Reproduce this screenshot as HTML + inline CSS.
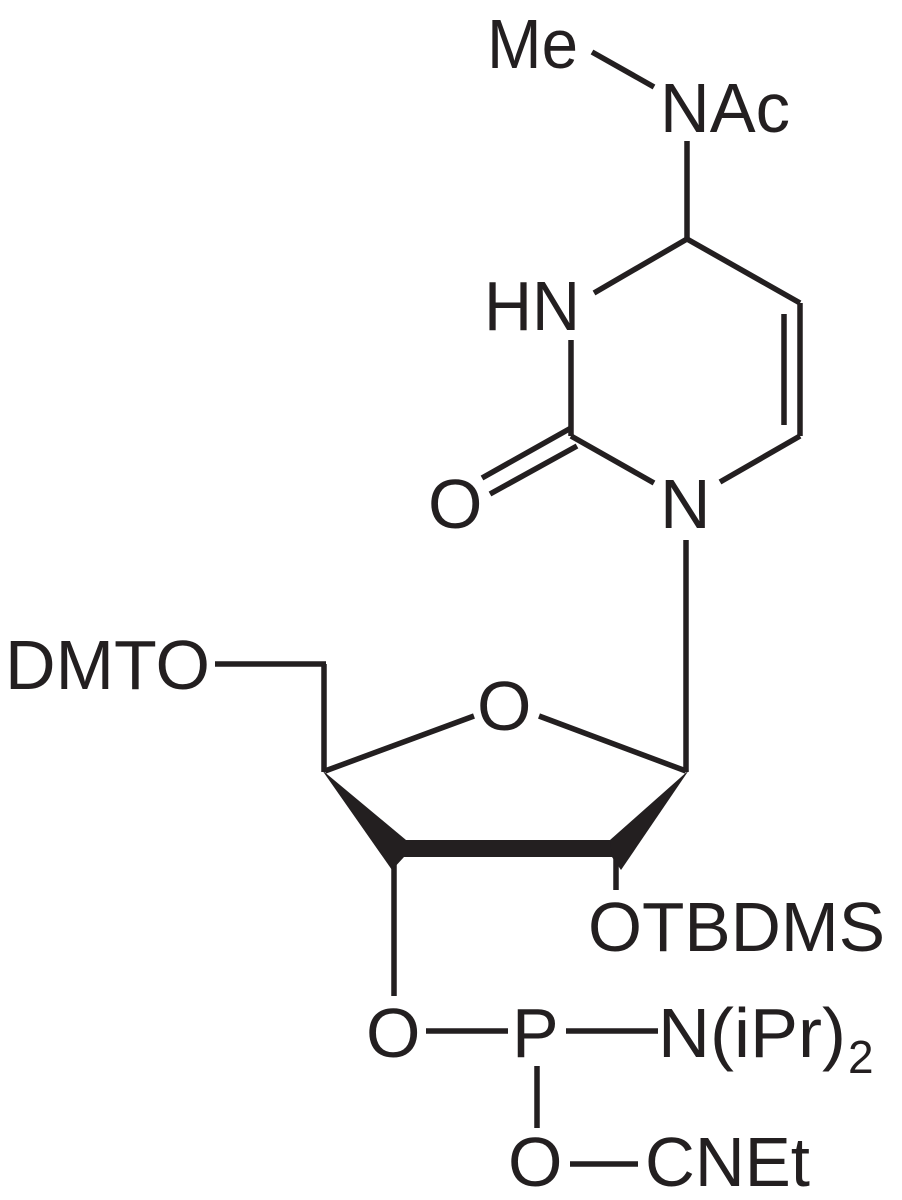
<!DOCTYPE html>
<html><head><style>
html,body{margin:0;padding:0;background:#fff;}
svg{display:block;}
text{font-family:"Liberation Sans",sans-serif;font-size:70px;fill:#231f20;}
</style></head><body>
<svg width="902" height="1200" viewBox="0 0 902 1200" xmlns="http://www.w3.org/2000/svg">
<g stroke="#231f20" stroke-width="5.5" fill="none" stroke-linecap="butt">
<line x1="592" y1="52" x2="654" y2="87"/>
<line x1="687" y1="141" x2="687" y2="239"/>
<line x1="687" y1="239" x2="594" y2="293"/>
<line x1="687" y1="239" x2="800" y2="303"/>
<line x1="800" y1="303" x2="800" y2="436"/>
<line x1="784" y1="314" x2="784" y2="425"/>
<line x1="800" y1="436" x2="720" y2="482"/>
<line x1="571" y1="340" x2="571" y2="436"/>
<line x1="571" y1="436" x2="654" y2="483"/>
<line x1="571" y1="428" x2="482" y2="478"/>
<line x1="577" y1="446" x2="490" y2="494"/>
<line x1="686" y1="540" x2="686" y2="772"/>
<line x1="324" y1="664" x2="324" y2="772"/>
<line x1="215" y1="664" x2="326" y2="664"/>
<line x1="325" y1="771" x2="474" y2="716"/>
<line x1="539" y1="716" x2="686" y2="771"/>
<line x1="394" y1="856" x2="394" y2="996"/>
<line x1="616" y1="856" x2="616" y2="890"/>
<line x1="426" y1="1031" x2="508" y2="1031"/>
<line x1="566" y1="1031" x2="658" y2="1031"/>
<line x1="537" y1="1066" x2="537" y2="1128"/>
<line x1="570" y1="1164" x2="638" y2="1164"/>
</g>
<g fill="#231f20">
<polygon points="322,770 406,840 404,857 392,870"/>
<polygon points="398,840 617,840 617,857 398,857"/>
<polygon points="689,770 610,840 612,857 621,870"/>
</g>
<text x="487" y="68" textLength="91" lengthAdjust="spacingAndGlyphs">Me</text>
<text x="660" y="132" textLength="130" lengthAdjust="spacingAndGlyphs">NAc</text>
<text x="484" y="330" textLength="96" lengthAdjust="spacingAndGlyphs">HN</text>
<text x="428" y="528">O</text>
<text x="660" y="528">N</text>
<text x="5" y="689" textLength="205" lengthAdjust="spacingAndGlyphs">DMTO</text>
<text x="477" y="730">O</text>
<text x="588" y="951" textLength="297" lengthAdjust="spacingAndGlyphs">OTBDMS</text>
<text x="366" y="1057">O</text>
<text x="512" y="1057">P</text>
<text x="658" y="1057" textLength="188" lengthAdjust="spacingAndGlyphs">N(iPr)</text>
<text x="848" y="1073" style="font-size:46px">2</text>
<text x="508" y="1186">O</text>
<text x="645" y="1186" textLength="165" lengthAdjust="spacingAndGlyphs">CNEt</text>
</svg>
</body></html>
